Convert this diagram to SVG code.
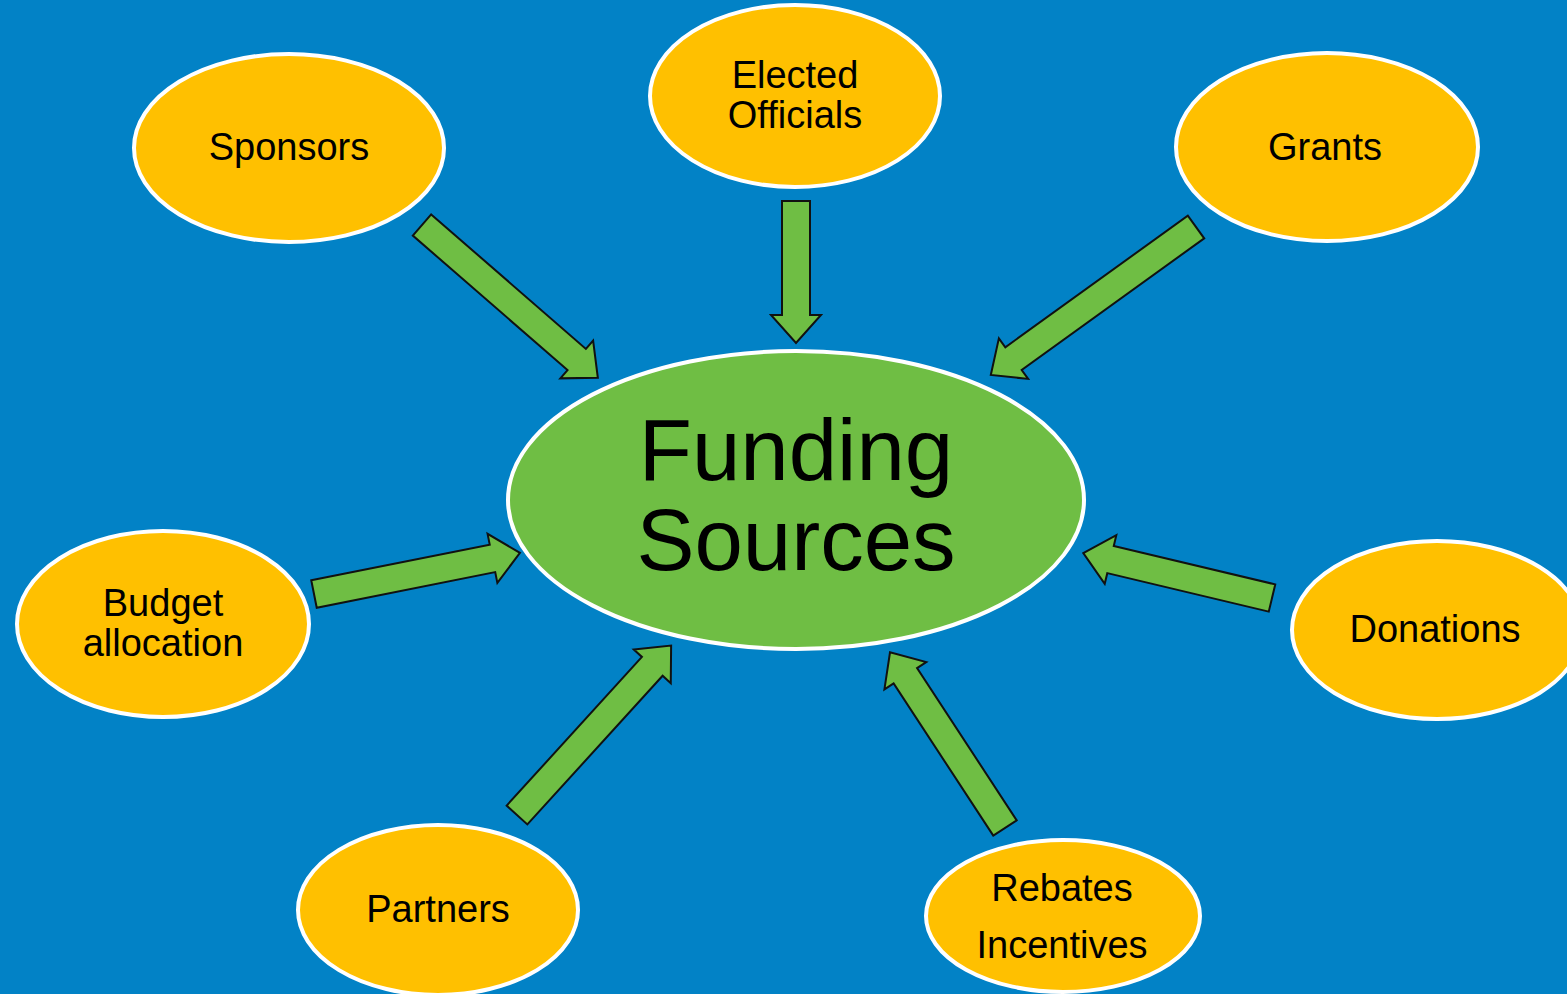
<svg xmlns="http://www.w3.org/2000/svg" width="1567" height="994" viewBox="0 0 1567 994">
<style>
.bg{fill:#0282C6}
.node{fill:#FFC000;stroke:#FFFFFF;stroke-width:4}
.hub{fill:#6FBE44;stroke:#FFFFFF;stroke-width:4}
.lbl{font-family:"Liberation Sans",Arial,sans-serif;font-size:38px;fill:#000;text-anchor:middle}
.big{font-family:"Liberation Sans",Arial,sans-serif;font-size:87px;fill:#000;text-anchor:middle}
.arr{fill:#6FBE44;stroke:#111;stroke-width:2;stroke-linejoin:miter}
</style>
<rect class="bg" x="0" y="0" width="1567" height="994"/>
<g id="connectors">
<path class="arr" transform="translate(422,225) rotate(41)" d="M0,-14 L205,-14 L205,-25 L233,0 L205,25 L205,14 L0,14 Z"/>
<path class="arr" transform="translate(796,201) rotate(90)" d="M0,-14 L114,-14 L114,-25 L142,0 L114,25 L114,14 L0,14 Z"/>
<path class="arr" transform="translate(1196,227) rotate(144.2)" d="M0,-14 L225,-14 L225,-25 L253,0 L225,25 L225,14 L0,14 Z"/>
<path class="arr" transform="translate(314,594) rotate(-11.3)" d="M0,-14 L182,-14 L182,-25 L210,0 L182,25 L182,14 L0,14 Z"/>
<path class="arr" transform="translate(1272,598) rotate(-166.6)" d="M0,-14 L166,-14 L166,-25 L194,0 L166,25 L166,14 L0,14 Z"/>
<path class="arr" transform="translate(517,815) rotate(-47.7)" d="M0,-14 L201,-14 L201,-25 L229,0 L201,25 L201,14 L0,14 Z"/>
<path class="arr" transform="translate(1005,828) rotate(-123.2)" d="M0,-14 L182,-14 L182,-25 L210,0 L182,25 L182,14 L0,14 Z"/>
</g>
<g id="sponsors"><ellipse class="node" cx="289" cy="148" rx="155" ry="94"/><text class="lbl" x="289" y="160">Sponsors</text></g>
<g id="elected"><ellipse class="node" cx="795" cy="96" rx="145" ry="91"/><text class="lbl" x="795" y="88">Elected</text><text class="lbl" x="795" y="128">Officials</text></g>
<g id="grants"><ellipse class="node" cx="1327" cy="147" rx="151" ry="94"/><text class="lbl" x="1325" y="160">Grants</text></g>
<g id="funding"><ellipse class="hub" cx="796" cy="500" rx="288" ry="149"/><text class="big" x="796" y="480">Funding</text><text class="big" x="796" y="570">Sources</text></g>
<g id="budget"><ellipse class="node" cx="163" cy="624" rx="146" ry="93"/><text class="lbl" x="163" y="616">Budget</text><text class="lbl" x="163" y="656">allocation</text></g>
<g id="donations"><ellipse class="node" cx="1437" cy="630" rx="145" ry="89"/><text class="lbl" x="1435" y="642">Donations</text></g>
<g id="partners"><ellipse class="node" cx="438" cy="910" rx="140" ry="85"/><text class="lbl" x="438" y="922">Partners</text></g>
<g id="rebates"><ellipse class="node" cx="1063" cy="916" rx="137" ry="76"/><text class="lbl" x="1062" y="901">Rebates</text><text class="lbl" x="1062" y="958">Incentives</text></g>
</svg>
